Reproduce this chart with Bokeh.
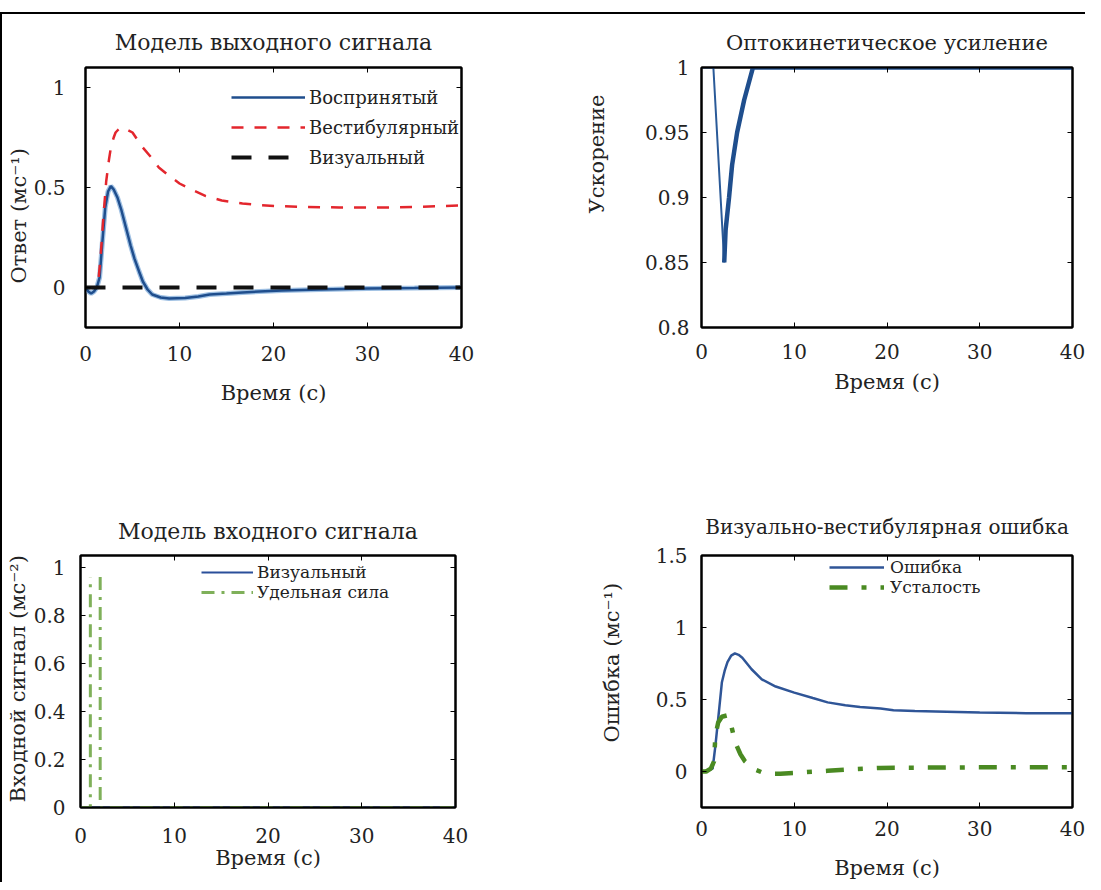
import numpy as np
from bokeh.plotting import figure
from bokeh.models import Range1d, FixedTicker, LinearAxis, Legend, LegendItem, Div, Spacer, Title
from bokeh.layouts import row, column
from bokeh.embed import file_html
from bokeh.resources import INLINE

FONT = "DejaVu Serif"
TXT = "#222222"

# ---------------- data ----------------
X_TICKS = [0, 10, 20, 30, 40]
X_LABELS = ["0", "10", "20", "30", "40"]

# Panel 1: output signal model
T_PERC = [0, 0.3, 0.6, 0.9, 1.2, 1.5, 1.8, 2.1, 2.4, 2.7, 3.0, 3.4, 3.8, 4.3, 4.8, 5.2, 5.7,
          6.1, 6.6, 7.1, 8.0, 8.9, 10.6, 12.0, 13.2, 15.0, 16.7, 18.5, 20.9, 25, 30, 35, 40]
V_PERC = [0, -0.02, -0.03, -0.02, 0.0, 0.05, 0.23, 0.40, 0.48, 0.507, 0.49, 0.45, 0.39, 0.30,
          0.21, 0.146, 0.08, 0.03, -0.01, -0.035, -0.05, -0.055, -0.053, -0.045, -0.035, -0.03,
          -0.025, -0.02, -0.015, -0.01, -0.005, -0.003, 0]
T_VEST = [0, 1.3, 1.6, 1.9, 2.2, 2.5, 2.7, 3.0, 3.2, 3.5, 3.75, 4.2, 5.0, 5.5, 6.1, 7.0, 7.8,
          9.0, 10.0, 11.5, 12.8, 14.5, 16.7, 18.5, 20.2, 23.4, 27, 30.5, 33, 35.9, 38, 40]
V_VEST = [0, 0, 0.15, 0.35, 0.53, 0.64, 0.70, 0.75, 0.775, 0.79, 0.80, 0.795, 0.775, 0.74, 0.70,
          0.65, 0.60, 0.555, 0.52, 0.485, 0.457, 0.435, 0.42, 0.412, 0.407, 0.403, 0.40, 0.40,
          0.40, 0.404, 0.407, 0.41]
T_VIS_OUT = [0, 40]
V_VIS_OUT = [0, 0]
P1_Y_TICKS = [0, 0.5, 1]
P1_Y_LABELS = ["0", "0.5", "1"]

# Panel 2: optokinetic gain (falling branch, then recovering branch)
T_OKN = [0, 1.28, 2.45, 2.6, 2.97, 3.3, 3.84, 4.6, 5.55, 10, 20, 30, 40]
V_OKN = [1, 1, 0.85, 0.875, 0.9, 0.925, 0.95, 0.975, 1.0, 1, 1, 1, 1]
OKN_MIN_INDEX = 2
P2_Y_TICKS = [0.8, 0.85, 0.9, 0.95, 1]
P2_Y_LABELS = ["0.8", "0.85", "0.9", "0.95", "1"]

# Panel 3: input signal model
T_VIS_IN = [0, 40]
V_VIS_IN = [0, 0]
T_SF = [0, 1.05, 1.05, np.nan, 2.1, 2.1, 40]
V_SF = [0, 0, 0.96, np.nan, 0.96, 0, 0]
P3_Y_TICKS = [0, 0.2, 0.4, 0.6, 0.8, 1]
P3_Y_LABELS = ["0", "0.2", "0.4", "0.6", "0.8", "1"]

# Panel 4: visual-vestibular error
T_ERR = [0, 0.3, 0.8, 1.2, 1.5, 1.9, 2.2, 2.5, 2.8, 3.2, 3.6, 4.0, 4.4, 5.4, 6.5, 8.0, 10.0,
         12.0, 13.6, 15.5, 17.1, 19.3, 20.7, 23, 26.4, 30, 35, 40]
V_ERR = [0, 0, 0.01, 0.02, 0.18, 0.43, 0.62, 0.70, 0.76, 0.805, 0.82, 0.81, 0.79, 0.71, 0.64,
         0.59, 0.548, 0.51, 0.48, 0.46, 0.448, 0.437, 0.426, 0.42, 0.415, 0.41, 0.405, 0.405]
T_FAT = [0, 0.5, 1.0, 1.35, 1.5, 1.8, 2.2, 2.8, 3.2, 3.65, 4.2, 4.7, 5.6, 6.5, 7.4, 8.5, 10,
         13.6, 16, 19.3, 26.4, 33, 40]
V_FAT = [0, 0, 0.02, 0.07, 0.25, 0.34, 0.38, 0.39, 0.32, 0.2, 0.12, 0.07, 0.018, -0.005,
         -0.015, -0.015, -0.01, 0.005, 0.015, 0.025, 0.028, 0.03, 0.03]
P4_Y_TICKS = [0, 0.5, 1, 1.5]
P4_Y_LABELS = ["0", "0.5", "1", "1.5"]


def style_axis(ax, ticks, labels, standoff, label=None, label_standoff=0):
    ax.ticker = FixedTicker(ticks=ticks)
    ax.major_label_overrides = {t: s for t, s in zip(ticks, labels)}
    ax.major_tick_in = 5
    ax.major_tick_out = 0
    ax.minor_tick_in = 0
    ax.minor_tick_out = 0
    ax.major_tick_line_color = "black"
    ax.axis_line_color = "black"
    ax.axis_line_width = 2
    ax.major_label_standoff = standoff
    ax.major_label_text_font = FONT
    ax.major_label_text_font_size = "20px"
    ax.major_label_text_color = TXT
    if label:
        ax.axis_label = label
        ax.axis_label_text_font = FONT
        ax.axis_label_text_font_size = "21px"
        ax.axis_label_text_font_style = "normal"
        ax.axis_label_text_color = TXT
        ax.axis_label_standoff = label_standoff


def mirror(p, ticks, where):
    ax = LinearAxis(ticker=FixedTicker(ticks=ticks),
                    major_label_overrides={t: "" for t in ticks},
                    major_label_text_font_size="0px", major_label_standoff=0,
                    major_tick_in=5, major_tick_out=0, minor_tick_in=0, minor_tick_out=0,
                    major_tick_line_color="black", axis_line_color="black", axis_line_width=2)
    p.add_layout(ax, where)


def make(width, height, left, right, top, bottom, yr, title, title_size, yticks, ylabels,
         ylab, x_std, xlab_std, y_std, ylab_std, ylab_offset, title_standoff):
    p = figure(width=width, height=height, min_border_left=left, min_border_right=right,
               min_border_top=top, min_border_bottom=bottom,
               x_range=Range1d(0, 40), y_range=Range1d(*yr),
               output_backend="svg", toolbar_location=None, title=title)
    p.grid.visible = False
    p.outline_line_color = "black"
    p.outline_line_width = 2
    p.background_fill_color = "white"
    p.border_fill_color = "white"
    p.title.text_font = FONT
    p.title.text_font_size = title_size
    p.title.text_font_style = "normal"
    p.title.text_color = TXT
    p.title.align = "center"
    p.title.standoff = title_standoff
    style_axis(p.xaxis[0], X_TICKS, X_LABELS, x_std, "Время (с)", xlab_std)
    style_axis(p.yaxis[0], yticks, ylabels, y_std)
    mirror(p, X_TICKS, "above")
    mirror(p, yticks, "right")
    # y-axis label as a side title so it can sit off-centre like the original
    p.add_layout(Title(text=ylab, align="left", offset=ylab_offset, standoff=ylab_std,
                       text_font=FONT, text_font_size="21px", text_font_style="normal",
                       text_color=TXT), "left")
    return p


def legend(p, items, loc, gw, rowh, size, standoff):
    lg = Legend(items=[LegendItem(label=l, renderers=[r]) for l, r in items],
                location=loc, glyph_width=gw, glyph_height=rowh, label_height=rowh,
                label_standoff=standoff, spacing=0, padding=0, margin=0,
                border_line_color=None, background_fill_alpha=0,
                label_text_font=FONT, label_text_font_size=size, label_text_color=TXT)
    p.add_layout(lg)


# Panel 1
p1 = make(540, 426, 83, 81, 51, 113, (-0.2, 1.1), "Модель выходного сигнала", "22px",
          P1_Y_TICKS, P1_Y_LABELS, "Ответ (мс⁻¹)", 18, 17, 20, 0, 44, 26)
p1.line(T_PERC, V_PERC, line_color="#9fc0e3", line_width=5)
r_perc = p1.line(T_PERC, V_PERC, line_color="#1f4e8d", line_width=2.5)
r_vest = p1.line(T_VEST, V_VEST, line_color="#e3262d", line_width=2.5, line_dash="12 11")
r_vis = p1.line(T_VIS_OUT, V_VIS_OUT, line_color="#111111", line_width=4, line_dash="20 17")
legend(p1, [("Воспринятый", r_perc), ("Вестибулярный", r_vest), ("Визуальный", r_vis)],
       (146, 155), 74, 30, "18px", 4)

# Panel 2
p2 = make(543, 426, 159, 13, 51, 113, (0.8, 1.0), "Оптокинетическое усиление", "21px",
          P2_Y_TICKS, P2_Y_LABELS, "Ускорение", 16, 8, 12, 66, 114, 25)
p2.line(T_OKN[:OKN_MIN_INDEX + 1], V_OKN[:OKN_MIN_INDEX + 1], line_color="#2a5a98", line_width=2)
p2.line(T_OKN[OKN_MIN_INDEX:], V_OKN[OKN_MIN_INDEX:], line_color="#1f4e8d", line_width=4.5)

# Panel 3
p3 = make(540, 442, 77, 87, 115, 65, (0, 1.05), "Модель входного сигнала", "22px",
          P3_Y_TICKS, P3_Y_LABELS, "Входной сигнал (мс⁻²)", 20, 0, 15, 2, 5, 24)
r_vin = p3.line(T_VIS_IN, V_VIS_IN, line_color="#2a4f9a", line_width=2)
r_sf = p3.line(T_SF, V_SF, line_color="#7fb05a", line_width=3, line_dash="13 7 3 7")
legend(p3, [("Визуальный", r_vin), ("Удельная сила", r_sf)], (121, 205), 52, 20, "17px", 4)

# Panel 4
p4 = make(543, 442, 159, 13, 113, 67, (-0.25, 1.5), "Визуально-вестибулярная ошибка", "20px",
          P4_Y_TICKS, P4_Y_LABELS, "Ошибка (мс⁻¹)", 13, 17, 14, 58, 65, 34)
r_err = p4.line(T_ERR, V_ERR, line_color="#2f5597", line_width=2.5)
r_fat = p4.line(T_FAT, V_FAT, line_color="#4a8a22", line_width=4.5, line_dash="18 14 5 14")
legend(p4, [("Ошибка", r_err), ("Усталость", r_fat)], (128, 210), 55, 20, "17px", 6)

left_bar = Div(text="", width=2, height=870, margin=0, styles={"background-color": "black"})
top_bar = Div(text="", width=1083, height=2, margin=0, styles={"background-color": "black"})
layout = column(Spacer(width=1085, height=12),
                row(left_bar, column(top_bar, row(p1, p2), row(p3, p4))))

open("out.html", "w").write(file_html(layout, INLINE))
